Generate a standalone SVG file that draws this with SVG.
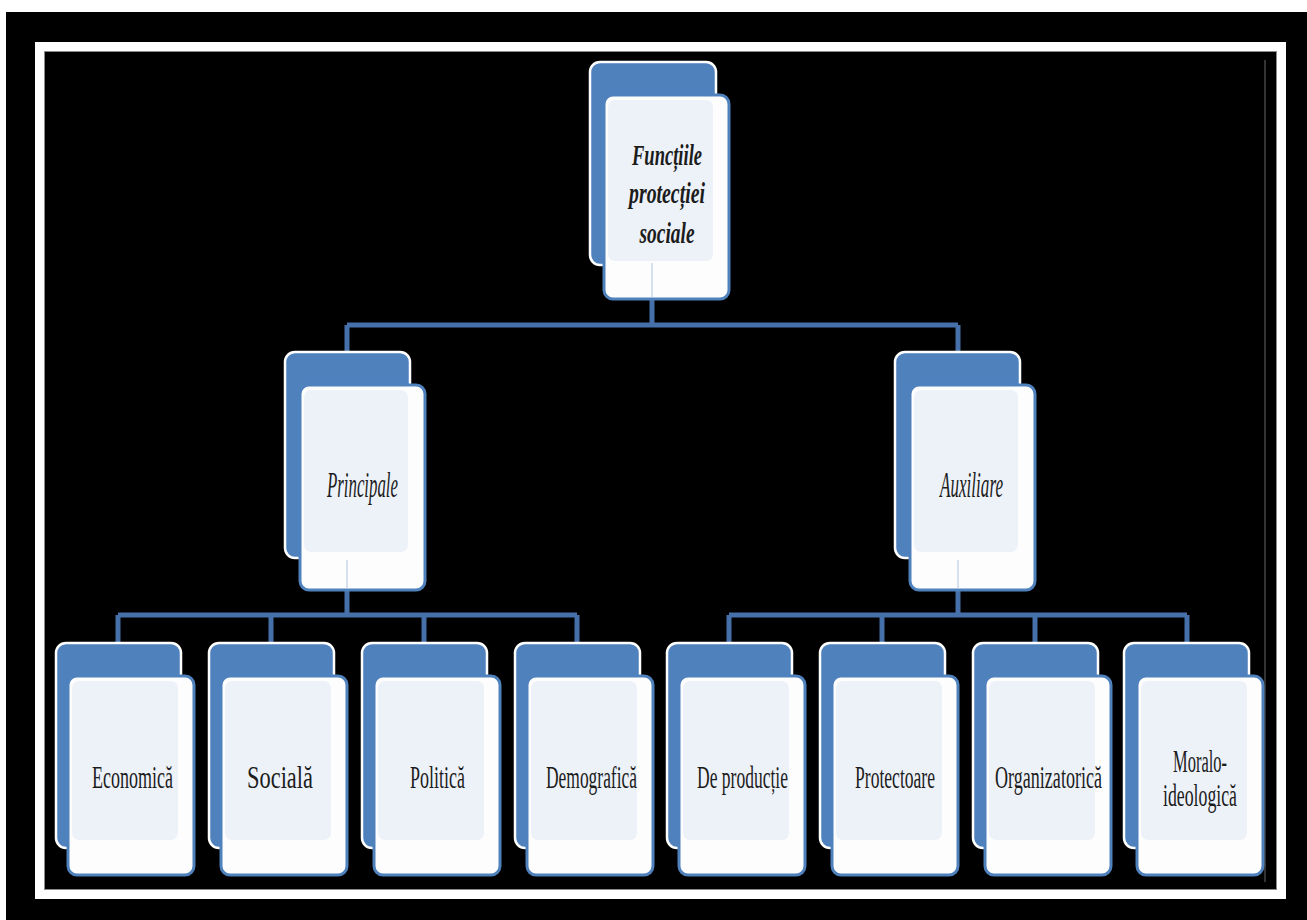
<svg xmlns="http://www.w3.org/2000/svg" width="1307" height="920" viewBox="0 0 1307 920">
<style>
.back{fill:#4f81bd;stroke:#ffffff;stroke-width:2.5}
.front{fill:#fdfdfe;stroke:#4f81bd;stroke-width:3}
.inner{fill:#edf2f9}
.conn{stroke:#4570aa;stroke-width:5;fill:none}
.ghost{stroke:#c9d6e8;stroke-width:1.5}
.t{font-family:"Liberation Serif","DejaVu Serif",serif;fill:#1c1c1c;text-anchor:middle}
.top{font-size:30px;font-weight:bold;font-style:italic}
.mid{font-size:35px;font-style:italic}
.leaf{font-size:32px}
</style>
<rect x="0" y="0" width="1307" height="920" fill="#ffffff"/>
<rect x="6" y="12" width="1301" height="908" fill="#000000"/>
<rect x="39.5" y="46.5" width="1242" height="848" fill="none" stroke="#ffffff" stroke-width="9"/>
<rect x="44.5" y="51.5" width="1232" height="838" fill="none" stroke="#8a8a8a" stroke-width="1"/>
<line x1="1265" y1="60" x2="1265" y2="882" stroke="#444444" stroke-width="1.5"/>

<g id="connectors">
<path class="conn" d="M652 299 V325 M347 325 H958 M347 325 V352 M958 325 V352"/>
<path class="conn" d="M347 590 V615 M118 615 H577 M118 615 V643 M271 615 V643 M424 615 V643 M577 615 V643"/>
<path class="conn" d="M958 590 V615 M729 615 H1187 M729 615 V643 M882 615 V643 M1035 615 V643 M1187 615 V643"/>
</g>

<g id="node-root">
<rect class="back" x="590" y="62" width="126" height="203" rx="10"/>
<rect class="front" x="604" y="95" width="125" height="204" rx="9"/>
<rect class="inner" x="608" y="100" width="105" height="161" rx="7"/>
<line class="ghost" x1="652" y1="263" x2="652" y2="297"/>
<text class="t top" transform="translate(667,165) scale(0.5,1)" textLength="140" lengthAdjust="spacingAndGlyphs">Funcțiile</text>
<text class="t top" transform="translate(667,203) scale(0.5,1)" textLength="152" lengthAdjust="spacingAndGlyphs">protecției</text>
<text class="t top" transform="translate(667,243) scale(0.5,1)" textLength="110" lengthAdjust="spacingAndGlyphs">sociale</text>
</g>

<g id="node-principale">
<rect class="back" x="285" y="352" width="125" height="206" rx="10"/>
<rect class="front" x="300" y="385" width="125" height="205" rx="9"/>
<rect class="inner" x="304" y="390" width="104" height="162" rx="7"/>
<line class="ghost" x1="347" y1="560" x2="347" y2="588"/>
<text class="t mid" transform="translate(362.5,497) scale(0.5,1)" textLength="142" lengthAdjust="spacingAndGlyphs">Principale</text>
</g>

<g id="node-auxiliare">
<rect class="back" x="895" y="352" width="125" height="206" rx="10"/>
<rect class="front" x="910" y="385" width="125" height="205" rx="9"/>
<rect class="inner" x="914" y="390" width="104" height="162" rx="7"/>
<line class="ghost" x1="958" y1="560" x2="958" y2="588"/>
<text class="t mid" transform="translate(971.5,497) scale(0.5,1)" textLength="126" lengthAdjust="spacingAndGlyphs">Auxiliare</text>
</g>

<g id="node-economica">
<rect class="back" x="56" y="643" width="125" height="205" rx="10"/>
<rect class="front" x="68" y="676" width="126" height="199" rx="9"/>
<rect class="inner" x="72" y="681" width="106" height="159" rx="7"/>
<text class="t leaf" transform="translate(132.5,788) scale(0.5,1)" textLength="162" lengthAdjust="spacingAndGlyphs">Economică</text>
</g>

<g id="node-sociala">
<rect class="back" x="209" y="643" width="125" height="205" rx="10"/>
<rect class="front" x="221" y="676" width="126" height="199" rx="9"/>
<rect class="inner" x="225" y="681" width="106" height="159" rx="7"/>
<text class="t leaf" transform="translate(280,788) scale(0.5,1)" textLength="132" lengthAdjust="spacingAndGlyphs">Socială</text>
</g>

<g id="node-politica">
<rect class="back" x="362" y="643" width="125" height="205" rx="10"/>
<rect class="front" x="374" y="676" width="126" height="199" rx="9"/>
<rect class="inner" x="378" y="681" width="106" height="159" rx="7"/>
<text class="t leaf" transform="translate(437.5,788) scale(0.5,1)" textLength="110" lengthAdjust="spacingAndGlyphs">Politică</text>
</g>

<g id="node-demografica">
<rect class="back" x="515" y="643" width="125" height="205" rx="10"/>
<rect class="front" x="527" y="676" width="126" height="199" rx="9"/>
<rect class="inner" x="531" y="681" width="106" height="159" rx="7"/>
<text class="t leaf" transform="translate(591.5,788) scale(0.5,1)" textLength="182" lengthAdjust="spacingAndGlyphs">Demografică</text>
</g>

<g id="node-deproductie">
<rect class="back" x="667" y="643" width="125" height="205" rx="10"/>
<rect class="front" x="679" y="676" width="126" height="199" rx="9"/>
<rect class="inner" x="683" y="681" width="106" height="159" rx="7"/>
<text class="t leaf" transform="translate(742.5,788) scale(0.5,1)" textLength="182" lengthAdjust="spacingAndGlyphs">De producție</text>
</g>

<g id="node-protectoare">
<rect class="back" x="820" y="643" width="125" height="205" rx="10"/>
<rect class="front" x="832" y="676" width="126" height="199" rx="9"/>
<rect class="inner" x="836" y="681" width="106" height="159" rx="7"/>
<text class="t leaf" transform="translate(895,788) scale(0.5,1)" textLength="160" lengthAdjust="spacingAndGlyphs">Protectoare</text>
</g>

<g id="node-organizatorica">
<rect class="back" x="973" y="643" width="125" height="205" rx="10"/>
<rect class="front" x="985" y="676" width="126" height="199" rx="9"/>
<rect class="inner" x="989" y="681" width="106" height="159" rx="7"/>
<text class="t leaf" transform="translate(1048.5,788) scale(0.5,1)" textLength="214" lengthAdjust="spacingAndGlyphs">Organizatorică</text>
</g>

<g id="node-moralo">
<rect class="back" x="1124" y="643" width="125" height="205" rx="10"/>
<rect class="front" x="1137" y="676" width="126" height="199" rx="9"/>
<rect class="inner" x="1141" y="681" width="106" height="159" rx="7"/>
<text class="t leaf" transform="translate(1200,772) scale(0.5,1)" textLength="108" lengthAdjust="spacingAndGlyphs">Moralo-</text>
<text class="t leaf" transform="translate(1200,806) scale(0.5,1)" textLength="148" lengthAdjust="spacingAndGlyphs">ideologică</text>
</g>
</svg>
